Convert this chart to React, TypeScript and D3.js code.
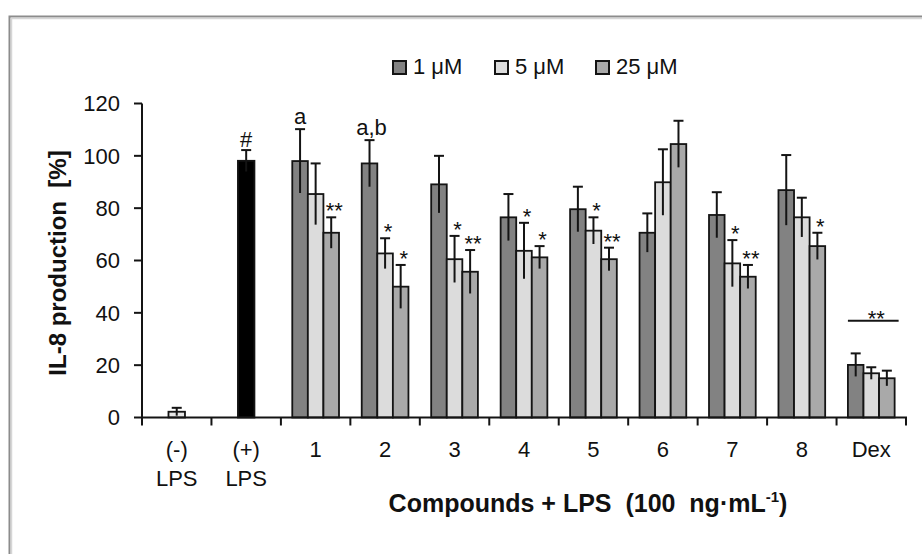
import React from "react";
import * as d3 from "d3";

const categories = ["(-) LPS", "(+) LPS", "1", "2", "3", "4", "5", "6", "7", "8", "Dex"];
const categoryLabelLines = [["(-)", "LPS"], ["(+)", "LPS"], ["1"], ["2"], ["3"], ["4"], ["5"], ["6"], ["7"], ["8"], ["Dex"]];

const controlCats = ["(-) LPS", "(+) LPS"];
const controlValues = [2.2, 98.1];
const controlErrors = [1.5, 4.1];
const controlColors = ["#e6e6e6", "#000000"];

const compoundCats = ["1", "2", "3", "4", "5", "6", "7", "8", "Dex"];
const seriesNames = ["1 μM", "5 μM", "25 μM"];
const seriesColors = ["#828282", "#dcdcdc", "#a9a9a9"];
const values1 = [98.0, 97.1, 89.1, 76.5, 79.6, 70.6, 77.4, 86.9, 20.1];
const errors1 = [12.2, 8.9, 10.9, 8.9, 8.6, 7.4, 8.7, 13.4, 4.4];
const values5 = [85.4, 62.7, 60.5, 63.7, 71.4, 89.9, 58.9, 76.5, 16.9];
const errors5 = [11.7, 5.8, 8.9, 10.7, 5.1, 12.6, 8.9, 7.5, 2.3];
const values25 = [70.6, 50.0, 55.7, 61.2, 60.5, 104.5, 53.8, 65.5, 15.0];
const errors25 = [5.9, 8.3, 8.3, 4.3, 4.4, 8.9, 4.5, 5.1, 2.9];

const yTicks = [0, 20, 40, 60, 80, 100, 120];

// significance marks: [category, series index, label]
const starCats = ["1", "2", "2", "3", "3", "4", "4", "5", "5", "7", "7", "8"];
const starSeries = [2, 1, 2, 1, 2, 1, 2, 1, 2, 1, 2, 2];
const starLabels = ["**", "*", "*", "*", "**", "*", "*", "*", "**", "*", "**", "*"];
const letterCats = ["1", "2"];
const letterLabels = ["a", "a,b"];
const controlMark = "#";
const dexMark = "**";

const FONT = "'Liberation Sans', Arial, Helvetica, sans-serif";

export default function App() {
  const W = 922, H = 554;
  const x = d3.scaleBand().domain(categories).range([142, 906]).paddingInner(0).paddingOuter(0);
  const y = d3.scaleLinear().domain([0, 120]).range([417.5, 103.5]);
  const bw = x.bandwidth();
  const inner = d3.scaleBand().domain(seriesNames).range([0, bw]).paddingInner(0).paddingOuter(0.73);
  const barW = inner.bandwidth();
  const series = [
    { name: seriesNames[0], values: values1, errors: errors1, color: seriesColors[0] },
    { name: seriesNames[1], values: values5, errors: errors5, color: seriesColors[1] },
    { name: seriesNames[2], values: values25, errors: errors25, color: seriesColors[2] },
  ];
  const stroke = "#141414";
  const errBar = (cx: number, v: number, e: number, key: string) => (
    <g key={key} stroke={stroke} strokeWidth={2} fill="none">
      <line x1={cx} x2={cx} y1={y(v - e)} y2={y(v + e)} />
      <line x1={cx - 5} x2={cx + 5} y1={y(v + e)} y2={y(v + e)} />
    </g>
  );

  const bars: any[] = [];
  const errs: any[] = [];
  controlCats.forEach((c, i) => {
    const cx = (x(c) as number) + bw / 2;
    const w = 16.5;
    bars.push(
      <rect key={"c" + i} x={cx - w / 2} y={y(controlValues[i])} width={w} height={y(0) - y(controlValues[i])}
        fill={controlColors[i]} stroke={stroke} strokeWidth={1.8} />
    );
    errs.push(errBar(cx, controlValues[i], controlErrors[i], "ce" + i));
  });
  compoundCats.forEach((c, ci) => {
    series.forEach((s, si) => {
      const bx = (x(c) as number) + (inner(s.name) as number);
      const v = s.values[ci];
      bars.push(
        <rect key={`b${ci}-${si}`} x={bx} y={y(v)} width={barW} height={y(0) - y(v)}
          fill={s.color} stroke={stroke} strokeWidth={1.8} />
      );
      errs.push(errBar(bx + barW / 2, v, s.errors[ci], `e${ci}-${si}`));
    });
  });

  const barCenter = (cat: string, si: number) => (x(cat) as number) + (inner(seriesNames[si]) as number) + barW / 2;
  const capY = (cat: string, si: number) => {
    const ci = compoundCats.indexOf(cat);
    const s = series[si];
    return y(s.values[ci] + s.errors[ci]);
  };

  const dexLeft = (x("Dex") as number) + (inner(seriesNames[0]) as number);
  const dexRight = (x("Dex") as number) + (inner(seriesNames[2]) as number) + barW;
  const dexLineY = y(37);

  return (
    <svg width={W} height={H} style={{ position: "absolute", left: 0, top: 0, background: "#fff" }}
      fontFamily={FONT}>
      <rect x={0} y={0} width={W} height={H} fill="#fff" />
      {/* frame */}
      <rect x={9.5} y={16.5} width={1200} height={1200} fill="none" stroke="#8c8c8c" strokeWidth={2} />
      <rect x={11.5} y={18.5} width={1200} height={1200} fill="none" stroke="#d6d6d6" strokeWidth={1.5} />

      {/* legend */}
      {seriesNames.map((n, i) => {
        const sx = [393, 495, 596][i];
        return (
          <g key={"lg" + i}>
            <rect x={sx} y={61} width={13} height={13} fill={seriesColors[i]} stroke={stroke} strokeWidth={2} />
            <text x={sx + 20} y={74} fontSize={22} fill="#111">{n}</text>
          </g>
        );
      })}

      {bars}
      {errs}

      {/* y axis */}
      <line x1={142} x2={142} y1={y(120)} y2={y(0) + 0.5} stroke={stroke} strokeWidth={2} />
      {yTicks.map((t) => (
        <g key={"yt" + t}>
          <line x1={134} x2={142} y1={y(t)} y2={y(t)} stroke={stroke} strokeWidth={2} />
          <text x={120} y={y(t) + 7.8} fontSize={22} textAnchor="end" fill="#111">{t}</text>
        </g>
      ))}
      {/* x axis */}
      <line x1={142} x2={907} y1={y(0)} y2={y(0)} stroke={stroke} strokeWidth={2} />
      {categories.concat(["end"]).map((c, i) => {
        const tx = i < categories.length ? (x(c) as number) : 906;
        return <line key={"xt" + i} x1={tx} x2={tx} y1={y(0)} y2={y(0) + 8} stroke={stroke} strokeWidth={2} />;
      })}
      {categories.map((c, i) => (
        <g key={"xl" + i}>
          {categoryLabelLines[i].map((ln, li) => (
            <text key={li} x={(x(c) as number) + bw / 2} y={457 + li * 29} fontSize={22} textAnchor="middle" fill="#111">{ln}</text>
          ))}
        </g>
      ))}

      {/* annotations */}
      <text x={(x("(+) LPS") as number) + bw / 2} y={y(controlValues[1] + controlErrors[1]) - 3} fontSize={22}
        textAnchor="middle" fill="#111">{controlMark}</text>
      {letterCats.map((c, i) => (
        <text key={"lt" + i} x={barCenter(c, 0) + (i === 1 ? 2 : 0)} y={capY(c, 0) - 5} fontSize={22} textAnchor="middle" fill="#111">{letterLabels[i]}</text>
      ))}
      {starCats.map((c, i) => (
        <text key={"st" + i} x={barCenter(c, starSeries[i]) + 3} y={capY(c, starSeries[i]) + 1} fontSize={22}
          textAnchor="middle" fill="#111">{starLabels[i]}</text>
      ))}
      <line x1={dexLeft} x2={dexRight + 4} y1={dexLineY} y2={dexLineY} stroke={stroke} strokeWidth={2} />
      <text x={(dexLeft + dexRight) / 2 + 5} y={dexLineY + 5} fontSize={22} textAnchor="middle" fill="#111">{dexMark}</text>

      {/* axis titles */}
      <text transform={`translate(66, 263) rotate(-90)`} fontSize={24} fontWeight="bold" textAnchor="middle" fill="#111"
        style={{ whiteSpace: "pre" }}>{"IL-8 production  [%]"}</text>
      <text x={588} y={512} fontSize={25} fontWeight="bold" textAnchor="middle" fill="#111" style={{ whiteSpace: "pre" }}>
        {"Compounds + LPS  (100  ng·mL"}
        <tspan fontSize={15} dy={-10}>{"-1"}</tspan>
        <tspan dy={10}>{")"}</tspan>
      </text>
    </svg>
  );
}
